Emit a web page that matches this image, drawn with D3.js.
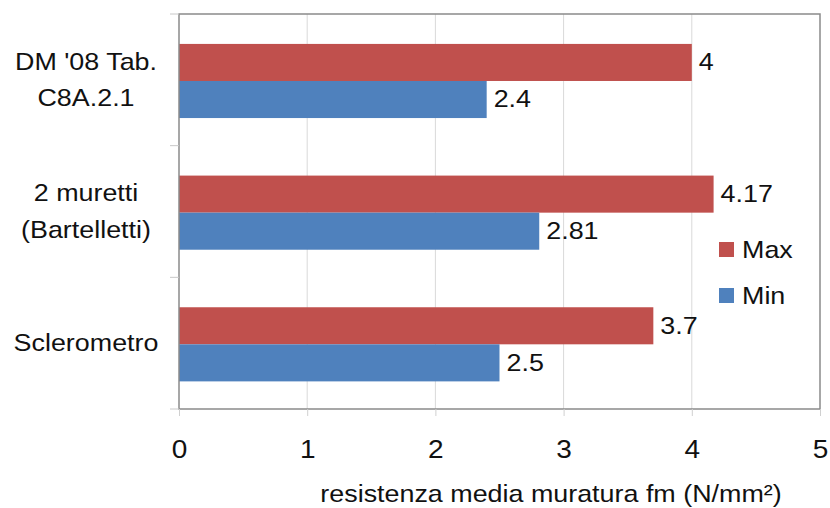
<!DOCTYPE html>
<html>
<head>
<meta charset="utf-8">
<script src="https://cdn.jsdelivr.net/npm/d3@7"></script>
<style>
  html, body { margin: 0; padding: 0; background: #fff; }
  svg { display: block; font-family: "Liberation Sans", Arial, sans-serif; }
</style>
</head>
<body>
<svg id="chart" width="830" height="508"></svg>
<script>
// Data
const categories = [["DM '08 Tab.", "C8A.2.1"], ["2 muretti", "(Bartelletti)"], ["Sclerometro"]];
const seriesNames = ["Max", "Min"];
const maxValues = [4, 4.17, 3.7];
const minValues = [2.4, 2.81, 2.5];
const xTicks = [0, 1, 2, 3, 4, 5];
const xTitle = "resistenza media muratura fm (N/mm²)";
const colors = ["#C0504D", "#4F81BD"];

const rows = categories.map((c, i) => ({
  key: c.join(" "),
  lines: c,
  values: [maxValues[i], minValues[i]]
}));

// Text is drawn slightly wide
const SX = 1.12;
const wide = (tx, ty) => `translate(${tx},${ty}) scale(${SX},1)`;

const svg = d3.select("#chart");
const plotLeft = 179, plotRight = 820, plotTop = 14, plotBottom = 409;

const x = d3.scaleLinear().domain([0, 5]).range([plotLeft, plotRight]);
const y0 = d3.scaleBand()
  .domain(rows.map(d => d.key))
  .range([plotTop, plotBottom])
  .paddingInner(0.437)
  .paddingOuter(0.2185)
  .align(0.52);
const y1 = d3.scaleBand().domain(seriesNames).range([0, y0.bandwidth()]);
const step = (plotBottom - plotTop) / rows.length;

// Vertical gridlines
svg.append("g")
  .selectAll("line")
  .data(xTicks.slice(1, -1))
  .join("line")
  .attr("x1", d => x(d)).attr("x2", d => x(d))
  .attr("y1", plotTop).attr("y2", plotBottom)
  .attr("stroke", "#d9d9d9").attr("stroke-width", 1);

// Bars
const groups = svg.append("g")
  .selectAll("g")
  .data(rows)
  .join("g")
  .attr("transform", d => `translate(0,${y0(d.key)})`);

groups.selectAll("rect")
  .data(d => d.values.map((v, i) => ({ name: seriesNames[i], value: v, i })))
  .join("rect")
  .attr("x", x(0))
  .attr("y", d => y1(d.name))
  .attr("width", d => x(d.value) - x(0))
  .attr("height", y1.bandwidth())
  .attr("fill", d => colors[d.i]);

// Value labels
groups.selectAll("text")
  .data(d => d.values.map((v, i) => ({ name: seriesNames[i], value: v })))
  .join("text")
  .attr("transform", d => wide(x(d.value) + 7, y1(d.name) + y1.bandwidth() / 2))
  .attr("dy", "0.33em")
  .attr("font-size", 24)
  .attr("fill", "#111")
  .text(d => d3.format("~g")(d.value));

// Plot frame
svg.append("rect")
  .attr("x", plotLeft).attr("y", plotTop)
  .attr("width", plotRight - plotLeft).attr("height", plotBottom - plotTop)
  .attr("fill", "none")
  .attr("stroke", "#8a8a8a").attr("stroke-width", 1.5);

// Category boundary ticks
svg.append("g")
  .selectAll("line")
  .data(d3.range(rows.length + 1))
  .join("line")
  .attr("x1", plotLeft - 9).attr("x2", plotLeft)
  .attr("y1", i => plotTop + i * step).attr("y2", i => plotTop + i * step)
  .attr("stroke", "#c8c8c8").attr("stroke-width", 1);

// X axis
const xAxis = svg.append("g")
  .attr("transform", `translate(0,${plotBottom})`)
  .call(d3.axisBottom(x).tickValues(xTicks).tickSize(7).tickPadding(24).tickFormat(d3.format("d")));
xAxis.select(".domain").remove();
xAxis.selectAll(".tick line").attr("stroke", "#d0d0d0");
xAxis.selectAll(".tick text")
  .attr("font-size", 25)
  .attr("font-family", "Liberation Sans, Arial, sans-serif")
  .attr("fill", "#111")
  .attr("transform", `scale(${SX},1)`);

// Category labels
const catLabels = svg.append("g")
  .selectAll("text")
  .data(rows)
  .join("text")
  .attr("text-anchor", "middle")
  .attr("font-size", 24)
  .attr("fill", "#111")
  .attr("transform", (d, i) => wide(86, plotTop + (i + 0.5) * step));
catLabels.selectAll("tspan")
  .data(d => d.lines.map((t, i) => ({ t, i, n: d.lines.length })))
  .join("tspan")
  .attr("x", 0)
  .attr("y", d => (d.i - (d.n - 1) / 2) * 37)
  .attr("dy", "0.34em")
  .text(d => d.t);

// Axis title
svg.append("text")
  .attr("transform", wide(551, 502))
  .attr("text-anchor", "middle")
  .attr("font-size", 24)
  .attr("fill", "#111")
  .text(xTitle);

// Legend
const legend = svg.append("g")
  .selectAll("g")
  .data(seriesNames)
  .join("g")
  .attr("transform", (d, i) => `translate(719,${242 + i * 46})`);
legend.append("rect")
  .attr("width", 15).attr("height", 15)
  .attr("fill", (d, i) => colors[i]);
legend.append("text")
  .attr("transform", wide(23, 7.5))
  .attr("dy", "0.34em")
  .attr("font-size", 24)
  .attr("fill", "#111")
  .text(d => d);
</script>
</body>
</html>
